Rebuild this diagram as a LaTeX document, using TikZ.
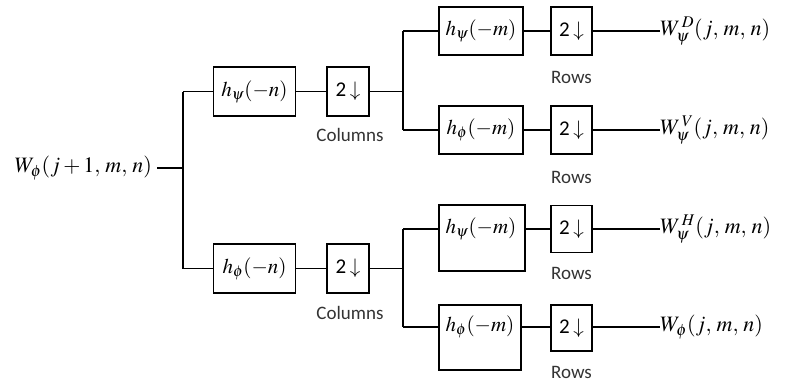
\documentclass[tikz,border=0pt]{standalone}
\usepackage{mathptmx}
\usepackage{fontspec}
\newfontfamily\lab{Carlito}
\begin{document}
\begin{tikzpicture}[x=1pt,y=-1pt,
  ln/.style={line width=1.3pt},
  filt/.style={draw,line width=1.3pt,inner sep=0pt,minimum width=82pt,minimum height=49pt,font=\fontsize{21}{24}\selectfont},
  dn/.style={draw,line width=1.3pt,inner sep=0pt,minimum width=42pt,minimum height=49pt,font=\lab\fontsize{21}{24}\selectfont},
  mtxt/.style={inner sep=0pt,font=\fontsize{22}{26}\selectfont},
  otxt/.style={inner sep=0pt,font=\fontsize{22}{26}\selectfont},
  lbl/.style={inner sep=0pt,font=\lab\fontsize{19}{21}\selectfont,text=black!80}]
\useasboundingbox (0,0) rectangle (787,383);
% input
\node[mtxt,anchor=east] (in) at (152,168) {$W_\phi(j+1,\,m,\,n)$};
\coordinate (j1) at (183,168);
% first stage
\node[filt] (f1) at (254.5,91.5) {$h_\psi(-n)$};
\node[dn] (d1) at (348,91.5) {2\,$\downarrow$};
\node[lbl] (c1) at (350,135) {Columns};
\node[filt] (f2) at (254.5,268.5) {$h_\phi(-n)$};
\node[dn] (d2) at (348,268.5) {2\,$\downarrow$};
\node[lbl] (c2) at (350,313) {Columns};
\coordinate (j2) at (403,91.5);
\coordinate (j3) at (403,268.5);
% second stage, top
\node[filt,minimum width=84pt,minimum height=48pt] (f3) at (481,31) {$h_\psi(-m)$};
\node[dn,minimum width=41pt,minimum height=48pt] (d3) at (571.5,31) {2\,$\downarrow$};
\node[lbl] (r3) at (571.5,77) {Rows};
\node[otxt,anchor=west] (o3) at (660,31) {$W_\psi^{\,D}(j,\,m,\,n)$};
\node[filt,minimum width=84pt,minimum height=48pt] (f4) at (481,130) {$h_\phi(-m)$};
\node[dn,minimum width=41pt,minimum height=48pt] (d4) at (571.5,130) {2\,$\downarrow$};
\node[lbl] (r4) at (571.5,177) {Rows};
\node[otxt,anchor=west] (o4) at (660,130) {$W_\psi^{\,V}(j,\,m,\,n)$};
% second stage, bottom
\node[draw,line width=1.3pt,minimum width=86pt,minimum height=66pt,inner sep=0pt] (f5b) at (482,238) {};
\node[mtxt,font=\fontsize{21}{24}\selectfont] (f5) at (481,229) {$h_\psi(-m)$};
\node[dn,minimum width=41pt,minimum height=47pt] (d5) at (571.5,229) {2\,$\downarrow$};
\node[lbl] (r5) at (571.5,273) {Rows};
\node[otxt,anchor=west] (o5) at (660,229) {$W_\psi^{\,H}(j,\,m,\,n)$};
\node[draw,line width=1.3pt,minimum width=82pt,minimum height=65pt,inner sep=0pt] (f6b) at (480,337.5) {};
\node[mtxt,font=\fontsize{21}{24}\selectfont] (f6) at (480,327) {$h_\phi(-m)$};
\node[dn,minimum width=41pt,minimum height=46pt] (d6) at (571.5,328) {2\,$\downarrow$};
\node[lbl] (r6) at (571.5,372) {Rows};
\node[otxt,anchor=west] (o6) at (660,327) {$W_\phi(j,\,m,\,n)$};
% connectors
\draw[ln] (in.east) ++(5,0) -- (j1);
\draw[ln] (j1 |- f1) -- (j1 |- f2);
\draw[ln] (j1 |- f1) -- (f1.west);
\draw[ln] (j1 |- f2) -- (f2.west);
\draw[ln] (f1) -- (d1);
\draw[ln] (f2) -- (d2);
\draw[ln] (d1.east) -- (j2);
\draw[ln] (d2.east) -- (j3);
\draw[ln] (j2 |- f3) -- (j2 |- f4);
\draw[ln] (j2 |- f3) -- (f3.west);
\draw[ln] (j2 |- f4) -- (f4.west);
\draw[ln] (f3) -- (d3);
\draw[ln] (f4) -- (d4);
\draw[ln] (d3.east) -- (o3.west);
\draw[ln] (d4.east) -- (o4.west);
\draw[ln] (j3 |- f5) -- (j3 |- f6);
\draw[ln] (j3 |- f5) -- (f5 -| f5b.west);
\draw[ln] (j3 |- f6) -- (f6 -| f6b.west);
\draw[ln] (f5 -| f5b.east) -- (f5 -| d5.west);
\draw[ln] (f6 -| f6b.east) -- (f6 -| d6.west);
\draw[ln] (f5 -| d5.east) -- (o5.west);
\draw[ln] (f6 -| d6.east) -- (o6.west);
\end{tikzpicture}
\end{document}
